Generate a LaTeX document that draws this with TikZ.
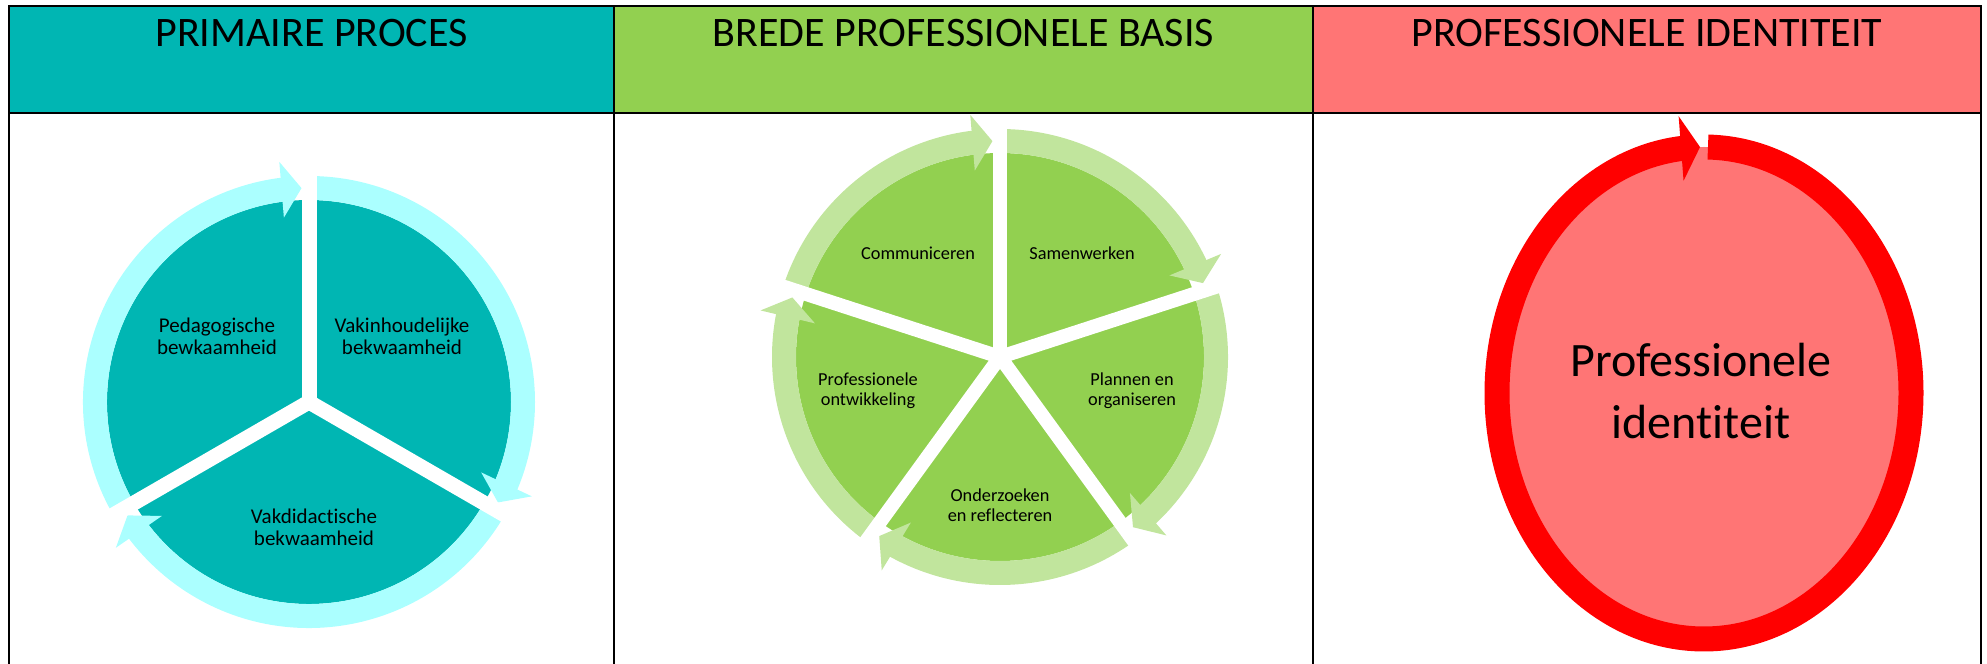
\documentclass[tikz,border=0pt]{standalone}
\usepackage{fontspec}
\setmainfont{Carlito}[Ligatures={NoCommon}]
\usetikzlibrary{arrows.meta, bending, positioning}

\definecolor{tealfill}{HTML}{00B6B3}
\definecolor{tealring}{HTML}{ABFFFF}
\definecolor{greenfill}{HTML}{92D050}
\definecolor{greenring}{HTML}{C1E59D}
\definecolor{redfill}{HTML}{FF7575}
\definecolor{redring}{HTML}{FF0000}

\tikzset{
    header/.style={anchor=base, inner sep=0pt, font=\fontsize{21}{24}\selectfont},
    tableline/.style={black, line width=1.4pt},
    ringseg/.style={line width=12pt, -{Triangle[length=10pt, width=27.5pt]}},
    gapline/.style={white, line width=#1},
    gapline/.default=7.5pt,
    lblA/.style={align=center, inner sep=0pt, font=\fontsize{10.5}{10.9}\selectfont},
    lblB/.style={align=center, inner sep=0pt, font=\fontsize{9.15}{10}\selectfont},
    lblC/.style={align=center, inner sep=0pt, font=\fontsize{24}{31}\selectfont},
}

\begin{document}
\begin{tikzpicture}[x=0.5pt, y=0.5pt]
    \useasboundingbox (0,0) rectangle (1987,664);

    % primaire proces
    \begin{scope}[shift={(309,262)}]
        \coordinate (p0) at (0,0);
        \fill[tealfill] (p0) circle (202);
        \foreach \a in {90,-30,-150}
            \draw[ringseg, tealring] ([shift={(\a:214)}]p0) arc[start angle=\a, end angle=\a-118, radius=214];
        \foreach \a in {90,210,330}
            \draw[gapline] (p0) -- ++(\a:255);
        \node[lblA] (ped) at (-92,66) {Pedagogische\\bewkaamheid};
        \node[lblA] (vak) at (93,66) {Vakinhoudelijke\\bekwaamheid};
        \node[lblA] (vdd) at (5,-125) {Vakdidactische\\bekwaamheid};
    \end{scope}

    % brede professionele basis
    \begin{scope}[shift={(1000,307)}]
        \coordinate (b0) at (0,0);
        \fill[greenfill] (b0) circle (204);
        \foreach \a in {90,18,-54,-126,-198}
            \draw[ringseg, greenring] ([shift={(\a:216)}]b0) arc[start angle=\a, end angle=\a-70, radius=216];
        \foreach \a in {90,18,-54,-126,-198}
            \draw[gapline=7pt] (b0) -- ++(\a:250);
        \node[lblB] (com) at (-82,104) {Communiceren};
        \node[lblB] (sam) at (82,104) {Samenwerken};
        \node[lblB] (pla) at (132,-34) {Plannen en\\organiseren};
        \node[lblB] (ond) at (0,-148) {Onderzoeken\\en reflecteren};
        \node[lblB] (pro) at (-132,-34) {Professionele\\ontwikkeling};
    \end{scope}

    % professionele identiteit
    \begin{scope}[shift={(1704,271)}]
        \coordinate (i0) at (0,0);
        \fill[redfill] (i0) ellipse [x radius=207, y radius=246];
        \draw[redring, line width=12.5pt, -{Triangle[length=9.5pt, width=32pt]}]
            ([shift={(88.9:207 and 246)}]i0) arc[start angle=88.9, end angle=-268.9, x radius=207, y radius=246];
        \node[lblC] (pid) at (-3,2) {Professionele\\identiteit};
    \end{scope}

    % table head
    \fill[tealfill] (9,551) rectangle (614,658);
    \fill[greenfill] (614,551) rectangle (1313,658);
    \fill[redfill] (1313,551) rectangle (1981,658);
    \node[header] (h1) at (311.5,617) {PRIMAIRE PROCES};
    \node[header] (h2) at (963.5,617) {BREDE PROFESSIONELE BASIS};
    \node[header] (h3) at (1647,617) {PROFESSIONELE IDENTITEIT};
    \draw[tableline] (9,0) -- (9,658) -- (1981,658) -- (1981,0);
    \draw[tableline] (9,551) -- (1981,551);
    \draw[tableline] (614,0) -- (614,658);
    \draw[tableline] (1313,0) -- (1313,658);
\end{tikzpicture}
\end{document}
